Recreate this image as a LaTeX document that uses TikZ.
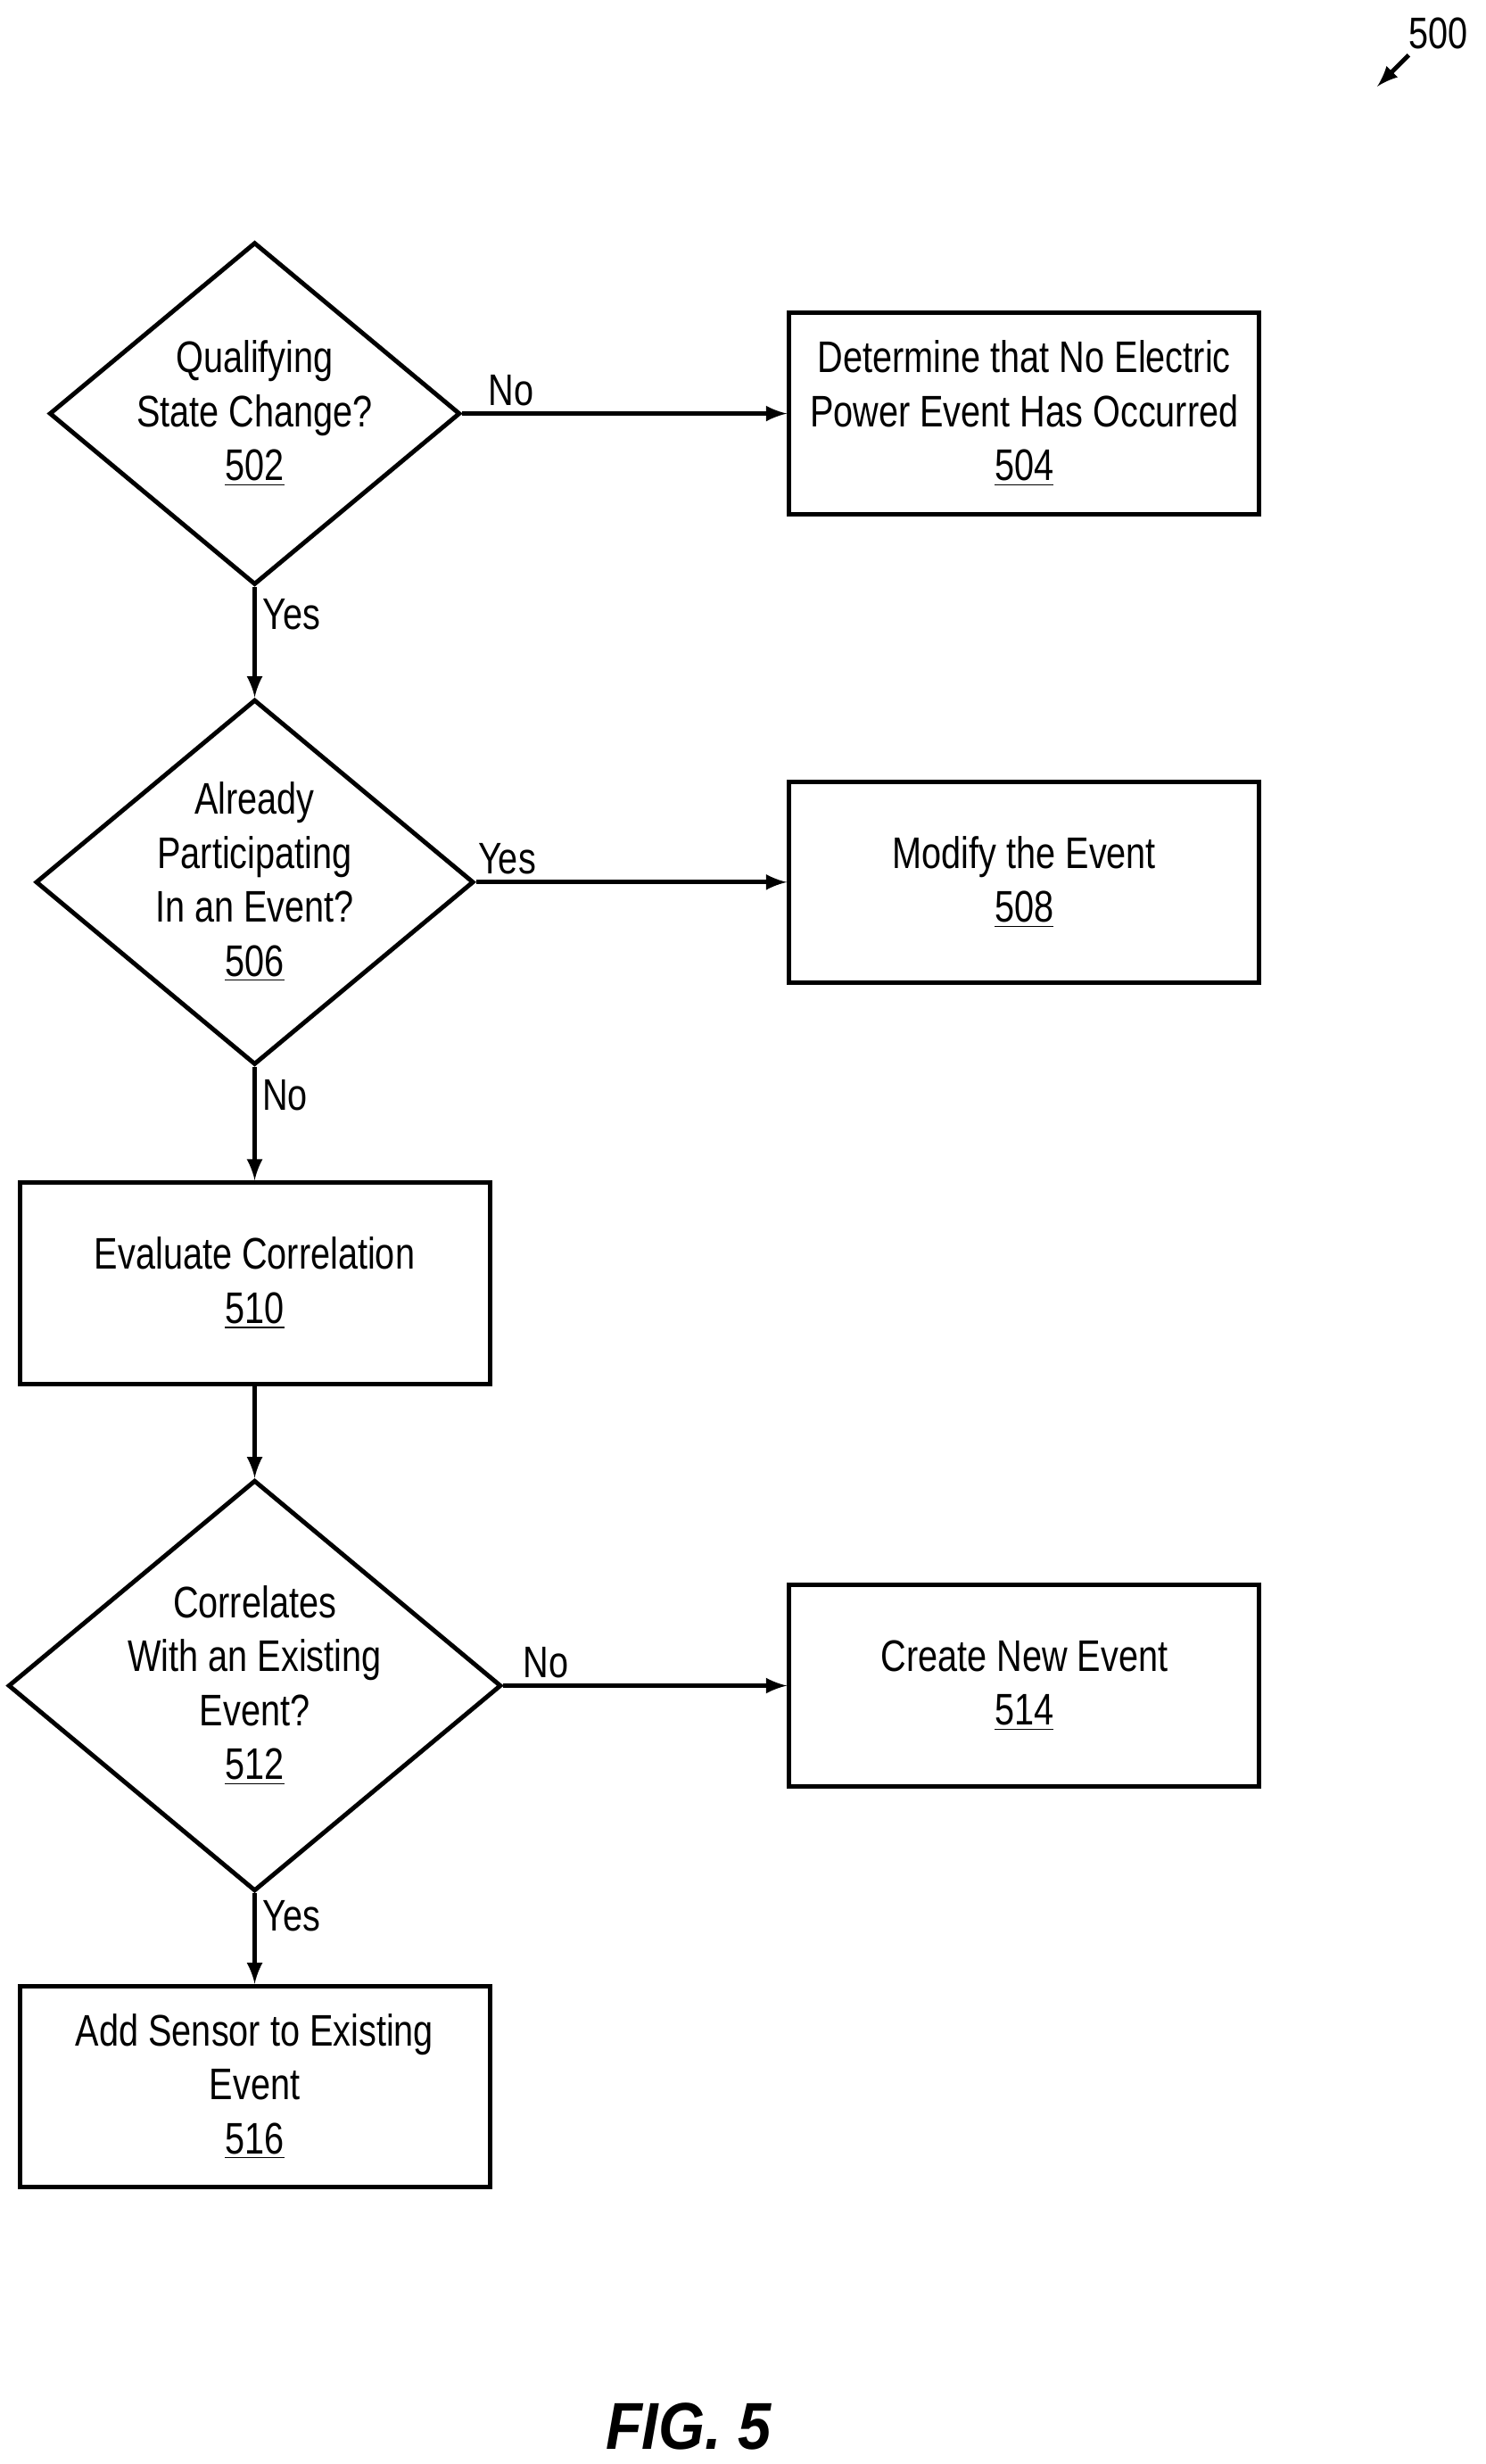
\documentclass[tikz,border=0pt]{standalone}
\usepackage{fontspec}
\setmainfont{Liberation Sans}[FakeStretch=0.8]
\newfontfamily\figfont{Liberation Sans}[FakeStretch=0.9]
\usetikzlibrary{shapes.geometric}
\tikzset{
  box/.style={draw,line width=1.6pt,minimum width=5.98cm,minimum height=2.56cm,align=center,inner sep=0pt},
  dec/.style={draw,diamond,line width=1.6pt,minimum width=5.1cm,minimum height=4.26cm,aspect=1.2,align=center,inner sep=0pt},
  flow/.style={line width=1.6pt,-latex},
  lbl/.style={inner sep=2pt}
}
\begin{document}
\begin{tikzpicture}[font=\fontsize{16}{19.5}\selectfont]
  \useasboundingbox (0,0) rectangle (18.9,-31.34);
  \node[dec] (q502) at (3.24,-5.26) {Qualifying\\State Change?\\\underline{502}};
  \node[box] (b504) at (13.03,-5.26) {Determine that No Electric\\Power Event Has Occurred\\\underline{504}};
  \node[dec] (q506) at (3.24,-11.22) {Already\\Participating\\In an Event?\\\underline{506}};
  \node[box] (b508) at (13.03,-11.22) {Modify the Event\\\underline{508}};
  \node[box] (b510) at (3.24,-16.32) {Evaluate Correlation\\\underline{510}};
  \node[dec] (q512) at (3.24,-21.44) {Correlates\\With an Existing\\Event?\\\underline{512}};
  \node[box] (b514) at (13.03,-21.44) {Create New Event\\\underline{514}};
  \node[box] (b516) at (3.24,-26.54) {Add Sensor to Existing\\Event\\\underline{516}};
  % connectors
  \draw[flow] (q502) -- node[lbl,above,pos=0.15] {No} (b504);
  \draw[flow] (q502) -- node[lbl,right,pos=0.25] {Yes} (q506);
  \draw[flow] (q506) -- node[lbl,above,pos=0.1] {Yes} (b508);
  \draw[flow] (q506) -- node[lbl,right,pos=0.25] {No} (b510);
  \draw[flow] (b510) -- (q512);
  \draw[flow] (q512) -- node[lbl,above,pos=0.15] {No} (b514);
  \draw[flow] (q512) -- node[lbl,right,pos=0.25] {Yes} (b516);
  % figure reference
  \node (ref) at (18.3,-0.42) {500};
  \coordinate (refend) at (17.52,-1.1);
  \draw[line width=1.6pt,-latex] (17.92,-0.7) -- (refend);
  \node (fig) at (8.76,-30.86) {\figfont\fontsize{24}{28}\selectfont\bfseries\itshape FIG. 5};
\end{tikzpicture}
\end{document}
